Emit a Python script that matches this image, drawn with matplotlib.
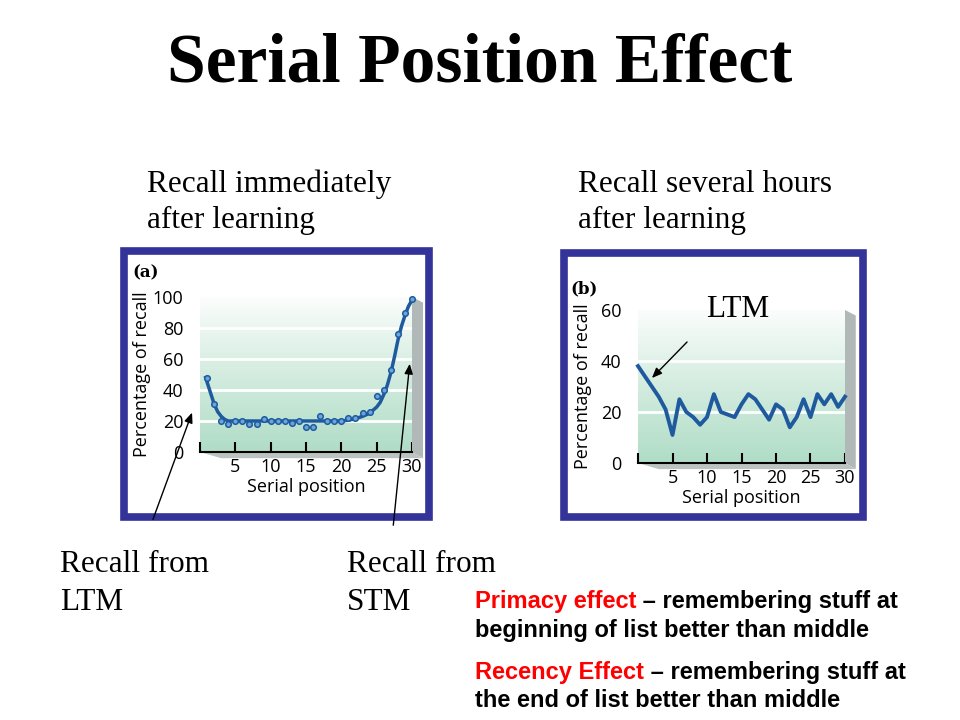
import numpy as np
import matplotlib.pyplot as plt
from matplotlib.colors import LinearSegmentedColormap
from matplotlib.patches import Rectangle, Polygon

# dados
pos_a = list(range(1, 31))
recall_a = [48, 31, 20, 18, 20, 20, 18, 18, 21, 20, 20, 20, 19, 20, 16,
            16, 23, 20, 20, 20, 22, 22, 25, 26, 36, 40, 53, 76, 90, 99]
# curva ajustada
curva_x = [0.8, 1.5, 2, 2.5, 3, 3.5, 4, 5, 10, 15, 20, 21, 22, 23, 24, 25,
           25.5, 26, 26.5, 27, 27.5, 28, 28.5, 29, 29.5, 30]
curva_y = [48, 38, 31, 26, 23, 21, 20, 20, 20, 20, 20, 20.5, 21.5, 23, 25, 29,
           32, 37, 43, 51, 61, 72, 81, 88, 94, 98]

pos_b = list(range(0, 31))
recall_b = [38, 34, 30, 26, 21, 11, 25, 20, 18, 15, 18, 27, 20, 19, 18, 23,
            27, 25, 21, 17, 23, 21, 14, 18, 25, 18, 27, 23, 27, 22, 26]

xticks = [5, 10, 15, 20, 25, 30]
yticks_a = [0, 20, 40, 60, 80, 100]
yticks_b = [0, 20, 40, 60]

W, H = 960, 720
fig = plt.figure(figsize=(9.6, 7.2), dpi=100)
fig.patch.set_facecolor('white')

fundo = fig.add_axes([0, 0, 1, 1], zorder=0)
fundo.set_xlim(0, W)
fundo.set_ylim(H, 0)
fundo.axis('off')

topo = fig.add_axes([0, 0, 1, 1], zorder=10)
topo.set_xlim(0, W)
topo.set_ylim(H, 0)
topo.axis('off')
topo.patch.set_alpha(0)

azul = '#333399'
linha = '#1f5a9e'
verde = LinearSegmentedColormap.from_list('g', ['#b0ddc7', '#d3ecdf', '#fbfdfc'])
fonte_graf = 'Open Sans'


def ax_px(x0, x1, ytop, ybot):
    return fig.add_axes([x0 / W, 1 - ybot / H, (x1 - x0) / W, (ybot - ytop) / H], zorder=5)


def painel(ax, ymax, yticks, grade, pad_y):
    ax.set_xlim(0, 30)
    ax.set_ylim(0, ymax)
    ax.imshow(np.linspace(0, 1, 100).reshape(-1, 1), cmap=verde, origin='lower',
              extent=[0, 30, 0, ymax], aspect='auto', zorder=0)
    for g in grade:
        ax.axhline(g, color='white', lw=2, zorder=1)
    for s in ['top', 'right', 'left']:
        ax.spines[s].set_visible(False)
    ax.spines['bottom'].set_linewidth(1.5)
    ax.spines['bottom'].set_zorder(4)
    ax.set_xticks([0] + xticks)
    ax.set_xticklabels([''] + [str(t) for t in xticks])
    ax.set_yticks(yticks)
    ax.tick_params(axis='x', direction='in', length=7, width=1.5, pad=4, labelsize=13)
    ax.tick_params(axis='y', length=0, pad=12, labelsize=13)
    for lb in ax.get_xticklabels() + ax.get_yticklabels():
        lb.set_family(fonte_graf)
    # lateral e piso em 3D
    dx, dy = 0.052, 0.04
    ax.add_patch(Polygon([(1, 1), (1 + dx, 1 - dy * 0.9), (1 + dx, -dy), (1, 0)],
                         closed=True, transform=ax.transAxes, clip_on=False,
                         facecolor='#b0b9b8', edgecolor='none', zorder=2))
    ax.add_patch(Polygon([(0, 0), (1, 0), (1 + dx, -dy), (0.1, -dy)],
                         closed=True, transform=ax.transAxes, clip_on=False,
                         facecolor='#bcc4c1', edgecolor='none', zorder=2))
    ax.set_xlabel('Serial position', family=fonte_graf, fontsize=13, labelpad=2)
    ax.set_ylabel('Percentage of recall', family=fonte_graf, fontsize=13, labelpad=pad_y)


# molduras
fundo.add_patch(Rectangle((123.5, 250.5), 305, 266, fill=False, edgecolor=azul, lw=5.5))
fundo.add_patch(Rectangle((563.5, 252.5), 299, 264, fill=False, edgecolor=azul, lw=5.5))

ax1 = ax_px(200, 412, 297, 452)
painel(ax1, 100, yticks_a, [20, 40, 60, 80], 1)
ax1.plot(curva_x, curva_y, color=linha, lw=2.5, zorder=3)
ax1.plot(pos_a, recall_a, 'o', ms=4, mfc='#6aa6dc', mec=linha, mew=1.1, zorder=3,
         clip_on=False)

ax2 = ax_px(638, 845, 310, 463)
painel(ax2, 60, yticks_b, [20, 40], 6)
ax2.plot(pos_b, recall_b, color=linha, lw=2.8, zorder=3, clip_on=False)

fundo.text(132, 277, '(a)', fontsize=12, fontweight='bold', family='DejaVu Serif')
fundo.text(570, 293, '(b)', fontsize=12, fontweight='bold', family='DejaVu Serif')

# textos
serif = 'Liberation Serif'
fundo.text(480, 82, 'Serial Position Effect', ha='center', fontsize=50,
           fontweight='bold', family=serif)
tam = 22.5
fundo.text(147, 192, 'Recall immediately', fontsize=tam, family=serif)
fundo.text(147, 228, 'after learning', fontsize=tam, family=serif)
fundo.text(578, 192, 'Recall several hours', fontsize=tam, family=serif)
fundo.text(578, 228, 'after learning', fontsize=tam, family=serif)
fundo.text(60, 572, 'Recall from', fontsize=tam, family=serif)
fundo.text(60, 610, 'LTM', fontsize=tam, family=serif)
fundo.text(347, 572, 'Recall from', fontsize=tam, family=serif)
fundo.text(347, 610, 'STM', fontsize=tam, family=serif)
topo.text(706, 317, 'LTM', fontsize=tam, family=serif)

sans = 'Liberation Sans'
linhas = [(608, 'Primacy effect', ' – remembering stuff at'),
          (637, '', 'beginning of list better than middle'),
          (679, 'Recency Effect', ' – remembering stuff at'),
          (707, '', 'the end of list better than middle')]
for y, vermelho, preto in linhas:
    if vermelho:
        t = fundo.text(475, y, vermelho, color='#ff0000', fontsize=17,
                       fontweight='bold', family=sans)
        fundo.annotate(preto, xy=(1, 0), xycoords=t, va='bottom', color='black',
                       fontsize=17, fontweight='bold', family=sans)
    else:
        fundo.text(475, y, preto, color='black', fontsize=17,
                   fontweight='bold', family=sans)

# setas
seta = dict(arrowstyle='-|>,head_length=0.6,head_width=0.25', color='black', lw=1)
topo.annotate('', xy=(193, 410), xytext=(152, 522), arrowprops=seta)
topo.annotate('', xy=(410, 361), xytext=(393, 528), arrowprops=seta)
topo.annotate('', xy=(650, 380), xytext=(689, 340), arrowprops=seta)

plt.savefig('out.png', dpi=100)
